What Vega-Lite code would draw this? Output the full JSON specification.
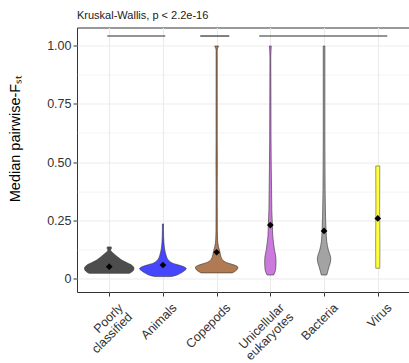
{
  "$schema": "https://vega.github.io/schema/vega-lite/v6.json",
  "width": 333,
  "height": 264.5,
  "autosize": {"type": "none"},
  "padding": {"left": 77, "top": 27.5, "right": 0, "bottom": 71.5},
  "background": "white",
  "title": {"text": "Kruskal-Wallis, p < 2.2e-16", "anchor": "start", "frame": "group", "fontSize": 11, "fontWeight": "normal", "font": "Liberation Sans", "color": "#1a1a1a", "offset": 7},
  "config": {
    "view": {"stroke": "#333333", "strokeWidth": 1},
    "font": "Liberation Sans"
  },
  "datasets": {
    "violins": [
      {"category": "Poorly classified", "value": 0.020, "width": 0.75},
      {"category": "Poorly classified", "value": 0.030, "width": 0.88},
      {"category": "Poorly classified", "value": 0.040, "width": 0.92},
      {"category": "Poorly classified", "value": 0.047, "width": 0.91},
      {"category": "Poorly classified", "value": 0.053, "width": 0.86},
      {"category": "Poorly classified", "value": 0.060, "width": 0.77},
      {"category": "Poorly classified", "value": 0.066, "width": 0.66},
      {"category": "Poorly classified", "value": 0.075, "width": 0.50},
      {"category": "Poorly classified", "value": 0.085, "width": 0.38},
      {"category": "Poorly classified", "value": 0.095, "width": 0.27},
      {"category": "Poorly classified", "value": 0.106, "width": 0.16},
      {"category": "Poorly classified", "value": 0.115, "width": 0.07},
      {"category": "Poorly classified", "value": 0.121, "width": 0.05},
      {"category": "Poorly classified", "value": 0.126, "width": 0.075},
      {"category": "Poorly classified", "value": 0.134, "width": 0.075},
      {"category": "Animals", "value": 0.006, "width": 0.30},
      {"category": "Animals", "value": 0.012, "width": 0.50},
      {"category": "Animals", "value": 0.020, "width": 0.65},
      {"category": "Animals", "value": 0.030, "width": 0.78},
      {"category": "Animals", "value": 0.040, "width": 0.87},
      {"category": "Animals", "value": 0.047, "width": 0.80},
      {"category": "Animals", "value": 0.056, "width": 0.59},
      {"category": "Animals", "value": 0.063, "width": 0.38},
      {"category": "Animals", "value": 0.070, "width": 0.27},
      {"category": "Animals", "value": 0.078, "width": 0.20},
      {"category": "Animals", "value": 0.090, "width": 0.14},
      {"category": "Animals", "value": 0.106, "width": 0.10},
      {"category": "Animals", "value": 0.120, "width": 0.07},
      {"category": "Animals", "value": 0.135, "width": 0.05},
      {"category": "Animals", "value": 0.156, "width": 0.035},
      {"category": "Animals", "value": 0.180, "width": 0.025},
      {"category": "Animals", "value": 0.210, "width": 0.02},
      {"category": "Animals", "value": 0.233, "width": 0.02},
      {"category": "Copepods", "value": 0.022, "width": 0.58},
      {"category": "Copepods", "value": 0.030, "width": 0.70},
      {"category": "Copepods", "value": 0.040, "width": 0.78},
      {"category": "Copepods", "value": 0.047, "width": 0.79},
      {"category": "Copepods", "value": 0.053, "width": 0.72},
      {"category": "Copepods", "value": 0.060, "width": 0.55},
      {"category": "Copepods", "value": 0.066, "width": 0.38},
      {"category": "Copepods", "value": 0.072, "width": 0.28},
      {"category": "Copepods", "value": 0.080, "width": 0.21},
      {"category": "Copepods", "value": 0.092, "width": 0.16},
      {"category": "Copepods", "value": 0.113, "width": 0.12},
      {"category": "Copepods", "value": 0.135, "width": 0.07},
      {"category": "Copepods", "value": 0.163, "width": 0.035},
      {"category": "Copepods", "value": 0.200, "width": 0.025},
      {"category": "Copepods", "value": 0.300, "width": 0.022},
      {"category": "Copepods", "value": 0.400, "width": 0.02},
      {"category": "Copepods", "value": 0.500, "width": 0.025},
      {"category": "Copepods", "value": 0.600, "width": 0.02},
      {"category": "Copepods", "value": 0.700, "width": 0.022},
      {"category": "Copepods", "value": 0.800, "width": 0.02},
      {"category": "Copepods", "value": 0.900, "width": 0.02},
      {"category": "Copepods", "value": 0.982, "width": 0.02},
      {"category": "Copepods", "value": 1.000, "width": 0.07},
      {"category": "Unicellular eukaryotes", "value": 0.013, "width": 0.12},
      {"category": "Unicellular eukaryotes", "value": 0.025, "width": 0.17},
      {"category": "Unicellular eukaryotes", "value": 0.040, "width": 0.20},
      {"category": "Unicellular eukaryotes", "value": 0.060, "width": 0.21},
      {"category": "Unicellular eukaryotes", "value": 0.080, "width": 0.21},
      {"category": "Unicellular eukaryotes", "value": 0.100, "width": 0.19},
      {"category": "Unicellular eukaryotes", "value": 0.120, "width": 0.155},
      {"category": "Unicellular eukaryotes", "value": 0.150, "width": 0.12},
      {"category": "Unicellular eukaryotes", "value": 0.180, "width": 0.09},
      {"category": "Unicellular eukaryotes", "value": 0.230, "width": 0.075},
      {"category": "Unicellular eukaryotes", "value": 0.290, "width": 0.055},
      {"category": "Unicellular eukaryotes", "value": 0.380, "width": 0.045},
      {"category": "Unicellular eukaryotes", "value": 0.470, "width": 0.035},
      {"category": "Unicellular eukaryotes", "value": 0.600, "width": 0.025},
      {"category": "Unicellular eukaryotes", "value": 0.800, "width": 0.02},
      {"category": "Unicellular eukaryotes", "value": 0.950, "width": 0.015},
      {"category": "Unicellular eukaryotes", "value": 1.000, "width": 0.035},
      {"category": "Bacteria", "value": 0.013, "width": 0.10},
      {"category": "Bacteria", "value": 0.030, "width": 0.14},
      {"category": "Bacteria", "value": 0.050, "width": 0.19},
      {"category": "Bacteria", "value": 0.070, "width": 0.24},
      {"category": "Bacteria", "value": 0.085, "width": 0.25},
      {"category": "Bacteria", "value": 0.100, "width": 0.22},
      {"category": "Bacteria", "value": 0.121, "width": 0.16},
      {"category": "Bacteria", "value": 0.157, "width": 0.10},
      {"category": "Bacteria", "value": 0.200, "width": 0.075},
      {"category": "Bacteria", "value": 0.264, "width": 0.055},
      {"category": "Bacteria", "value": 0.380, "width": 0.04},
      {"category": "Bacteria", "value": 0.600, "width": 0.03},
      {"category": "Bacteria", "value": 1.000, "width": 0.03},
      {"category": "Virus", "value": 0.042, "width": 0.075},
      {"category": "Virus", "value": 0.150, "width": 0.08},
      {"category": "Virus", "value": 0.300, "width": 0.07},
      {"category": "Virus", "value": 0.483, "width": 0.075}
    ],
    "means": [
      {"category": "Poorly classified", "value": 0.049},
      {"category": "Animals", "value": 0.056},
      {"category": "Copepods", "value": 0.111},
      {"category": "Unicellular eukaryotes", "value": 0.228},
      {"category": "Bacteria", "value": 0.203},
      {"category": "Virus", "value": 0.257}
    ],
    "brackets": [
      {"start": 0.963, "end": 2.043, "value": 1.043},
      {"start": 2.695, "end": 3.235, "value": 1.043},
      {"start": 3.793, "end": 6.177, "value": 1.043}
    ]
  },
  "resolve": {"scale": {"x": "independent"}, "axis": {"x": "independent", "y": "independent"}},
  "layer": [
    {
      "data": {"name": "violins"},
      "transform": [{"filter": "datum.category == 'Poorly classified'"}],
      "mark": {"type": "area", "orient": "horizontal", "interpolate": "monotone", "fill": "#4d4d4d", "stroke": "#333333", "strokeWidth": 0.6},
      "encoding": {
        "x": {"field": "width", "type": "quantitative", "stack": "center", "impute": null, "scale": {"domain": [-0.14, 6.06], "nice": false, "zero": false}, "axis": null},
        "y": {"field": "value", "type": "quantitative", "scale": {"domain": [-0.0603, 1.0797], "nice": false, "zero": false}, "axis": null}
      }
    },
    {
      "data": {"name": "violins"},
      "transform": [{"filter": "datum.category == 'Animals'"}],
      "mark": {"type": "area", "orient": "horizontal", "interpolate": "monotone", "fill": "#4646ff", "stroke": "#333333", "strokeWidth": 0.6},
      "encoding": {
        "x": {"field": "width", "type": "quantitative", "stack": "center", "impute": null, "scale": {"domain": [-1.165, 5.035], "nice": false, "zero": false}, "axis": null},
        "y": {"field": "value", "type": "quantitative", "scale": {"domain": [-0.0603, 1.0797], "nice": false, "zero": false}, "axis": null}
      }
    },
    {
      "data": {"name": "violins"},
      "transform": [{"filter": "datum.category == 'Copepods'"}],
      "mark": {"type": "area", "orient": "horizontal", "interpolate": "monotone", "fill": "#b07a52", "stroke": "#333333", "strokeWidth": 0.6},
      "encoding": {
        "x": {"field": "width", "type": "quantitative", "stack": "center", "impute": null, "scale": {"domain": [-2.205, 3.995], "nice": false, "zero": false}, "axis": null},
        "y": {"field": "value", "type": "quantitative", "scale": {"domain": [-0.0603, 1.0797], "nice": false, "zero": false}, "axis": null}
      }
    },
    {
      "data": {"name": "violins"},
      "transform": [{"filter": "datum.category == 'Unicellular eukaryotes'"}],
      "mark": {"type": "area", "orient": "horizontal", "interpolate": "monotone", "fill": "#cc79dd", "stroke": "#333333", "strokeWidth": 0.6},
      "encoding": {
        "x": {"field": "width", "type": "quantitative", "stack": "center", "impute": null, "scale": {"domain": [-3.495, 2.705], "nice": false, "zero": false}, "axis": null},
        "y": {"field": "value", "type": "quantitative", "scale": {"domain": [-0.0603, 1.0797], "nice": false, "zero": false}, "axis": null}
      }
    },
    {
      "data": {"name": "violins"},
      "transform": [{"filter": "datum.category == 'Bacteria'"}],
      "mark": {"type": "area", "orient": "horizontal", "interpolate": "monotone", "fill": "#a3a3a3", "stroke": "#333333", "strokeWidth": 0.6},
      "encoding": {
        "x": {"field": "width", "type": "quantitative", "stack": "center", "impute": null, "scale": {"domain": [-4.475, 1.725], "nice": false, "zero": false}, "axis": null},
        "y": {"field": "value", "type": "quantitative", "scale": {"domain": [-0.0603, 1.0797], "nice": false, "zero": false}, "axis": null}
      }
    },
    {
      "data": {"name": "violins"},
      "transform": [{"filter": "datum.category == 'Virus'"}],
      "mark": {"type": "area", "orient": "horizontal", "interpolate": "monotone", "fill": "#ffff3a", "stroke": "#555555", "strokeWidth": 0.6},
      "encoding": {
        "x": {"field": "width", "type": "quantitative", "stack": "center", "impute": null, "scale": {"domain": [-5.56, 0.64], "nice": false, "zero": false}, "axis": null},
        "y": {"field": "value", "type": "quantitative", "scale": {"domain": [-0.0603, 1.0797], "nice": false, "zero": false}, "axis": null}
      }
    },
    {
      "data": {"name": "brackets"},
      "mark": {"type": "rule", "color": "#2b2b2b", "strokeWidth": 1.2},
      "encoding": {
        "x": {"field": "start", "type": "quantitative", "scale": {"domain": [0.4, 6.6], "nice": false, "zero": false}, "axis": null},
        "x2": {"field": "end"},
        "y": {"field": "value", "type": "quantitative", "scale": {"domain": [-0.0603, 1.0797], "nice": false, "zero": false}, "axis": null}
      }
    },
    {
      "data": {"name": "means"},
      "mark": {"type": "point", "shape": "diamond", "filled": true, "color": "black", "size": 45, "opacity": 1},
      "encoding": {
        "x": {"field": "category", "type": "nominal",
          "scale": {"type": "point", "padding": 0.6, "domain": ["Poorly classified", "Animals", "Copepods", "Unicellular eukaryotes", "Bacteria", "Virus"]},
          "axis": {"orient": "bottom", "title": null, "labelAngle": -45, "labelAlign": "right", "labelBaseline": "top", "labelExpr": "split(datum.label, ' ')", "labelFontSize": 12.5, "labelColor": "#333333", "labelPadding": 5, "labelOffset": 7, "labelLineHeight": 13, "tickColor": "#333333", "tickSize": 4, "tickWidth": 1, "domain": false, "grid": true, "gridColor": "#ebebeb", "gridWidth": 1.1}},
        "y": {"field": "value", "type": "quantitative", "scale": {"domain": [-0.0603, 1.0797], "nice": false, "zero": false},
          "axis": {"orient": "left", "values": [0, 0.125, 0.25, 0.375, 0.5, 0.625, 0.75, 0.875, 1],
            "labelExpr": "datum.value == 0 ? '0' : ((datum.value * 8) % 2 == 1 ? '' : format(datum.value, '.2f'))",
            "title": "Median pairwise-Fₛₜ", "grid": true, "gridColor": "#ebebeb",
            "gridWidth": {"condition": {"test": "(datum.value * 8) % 2 == 1", "value": 0.55}, "value": 1.1},
            "tickOpacity": {"condition": {"test": "(datum.value * 8) % 2 == 1", "value": 0}, "value": 1},
            "domain": false, "tickColor": "#333333", "tickSize": 4, "tickWidth": 1,
            "labelFontSize": 12.5, "labelColor": "#333333", "labelPadding": 2,
            "titleFontSize": 14.5, "titleFontWeight": "normal", "titleColor": "black", "titlePadding": 24, "titleY": 111}}
      }
    }
  ]
}
